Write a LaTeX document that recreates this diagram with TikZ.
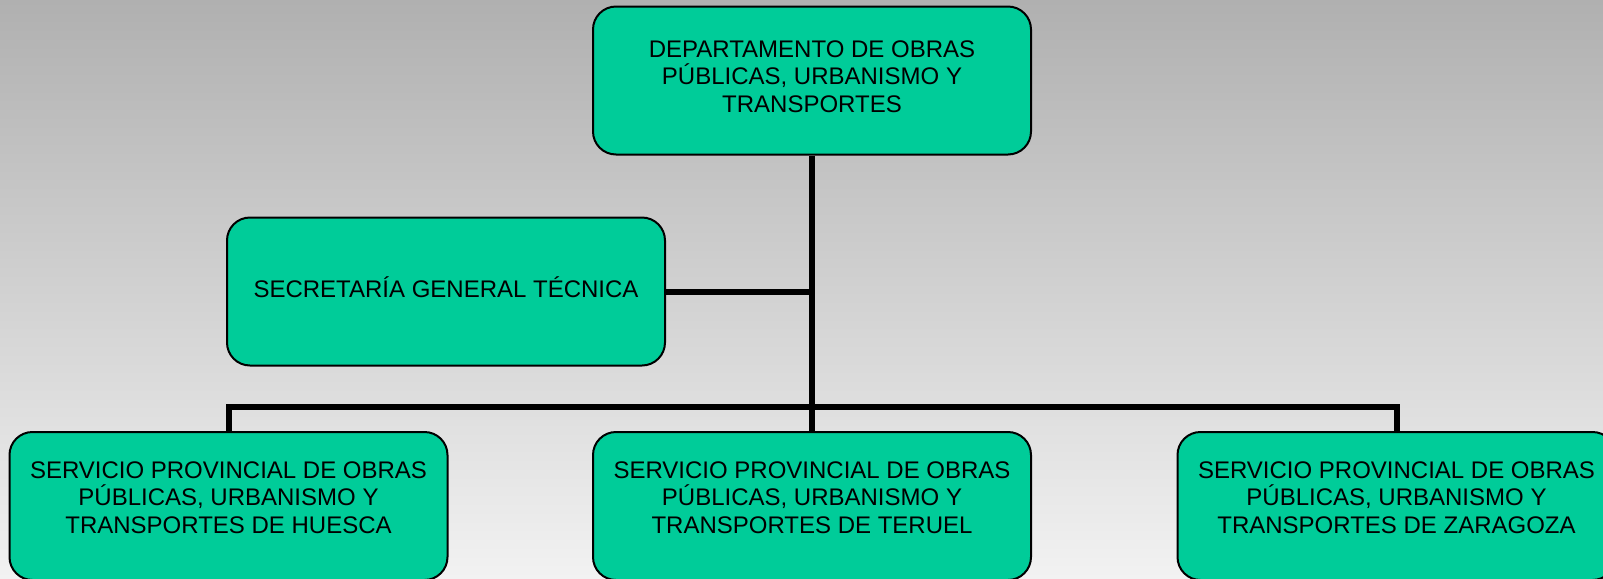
\documentclass[tikz,border=0pt]{standalone}
\usepackage{fontspec}
\setmainfont{Liberation Sans}
\usetikzlibrary{positioning}
\definecolor{boxgreen}{RGB}{0,204,153}
\definecolor{bgtop}{RGB}{176,176,176}
\definecolor{bgbot}{RGB}{242,242,242}

\begin{document}
\begin{tikzpicture}[x=0.5pt,y=-0.5pt,
	box/.style={shape=rectangle, rounded corners=11.5pt, draw, line width=1pt, fill=boxgreen, minimum width=219pt, minimum height=74pt, align=center, font=\fontsize{12}{13.8}\selectfont, text height=36.2pt, text depth=4.5pt},
	conn/.style={line width=3pt}]
\useasboundingbox (0,0) rectangle (1603,579);
\clip (0,0) rectangle (1603,579);
\shade[top color=bgtop, bottom color=bgbot] (0,0) rectangle (1603,579);

\node [box] (dep) at (812,80.5) {DEPARTAMENTO DE OBRAS\\PÚBLICAS, URBANISMO Y\\TRANSPORTES};
\node [box, text height=8.6pt, text depth=3pt] (sec) at (446,291.5) {SECRETARÍA GENERAL TÉCNICA};
\node [box, text depth=9pt] (hu) at (228.5,506) {SERVICIO PROVINCIAL DE OBRAS\\PÚBLICAS, URBANISMO Y\\TRANSPORTES DE HUESCA};
\node [box, text depth=9pt] (te) at (812,506) {SERVICIO PROVINCIAL DE OBRAS\\PÚBLICAS, URBANISMO Y\\TRANSPORTES DE TERUEL};
\node [box, text depth=9pt] (za) at (1396.5,506) {SERVICIO PROVINCIAL DE OBRAS\\PÚBLICAS, URBANISMO Y\\TRANSPORTES DE ZARAGOZA};

\coordinate (bus) at (812,407);
\draw [conn] (dep) -- (bus);
\draw [conn] (sec) -- (sec -| bus);
\draw [conn] (hu) |- (bus) -| (za);
\draw [conn] (bus) -- (te);
\end{tikzpicture}
\end{document}
